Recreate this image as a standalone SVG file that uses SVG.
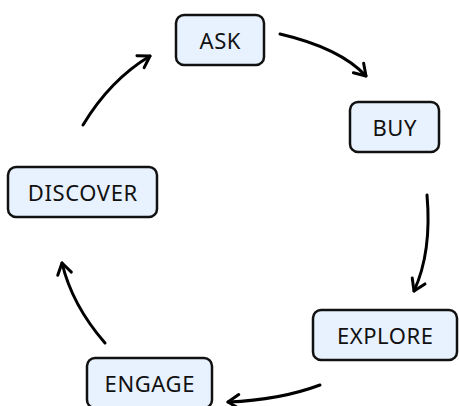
<svg xmlns="http://www.w3.org/2000/svg" width="459" height="406" viewBox="0 0 459 406">
<defs>
<style>
.node rect{fill:#e8f2fe;stroke:#111;stroke-width:2.5}
.node text{font-family:"Noto Sans","Open Sans",sans-serif;font-size:22px;letter-spacing:0.6px;fill:#111;text-anchor:middle}
.edge{fill:none;stroke:#000;stroke-width:3;stroke-linecap:round}
</style>
<marker id="ah" markerUnits="userSpaceOnUse" markerWidth="20" markerHeight="20" refX="0" refY="0" viewBox="-14 -10 20 20" orient="auto" overflow="visible">
<path d="M-11,-7 L0,0 L-11,7" fill="none" stroke="#000" stroke-width="3" stroke-linecap="round" stroke-linejoin="round"/>
</marker>
</defs>
<rect width="459" height="406" fill="#fff"/>
<g id="connectors">
<path class="edge" d="M280,34 Q340,48 366,76" marker-end="url(#ah)"/>
<path class="edge" d="M427,195 Q432,252 414,291" marker-end="url(#ah)"/>
<path class="edge" d="M320,385 Q280,400 228,402" marker-end="url(#ah)"/>
<path class="edge" d="M105,343 Q72,305 62,263" marker-end="url(#ah)"/>
<path class="edge" d="M83,125 Q110,80 150,56" marker-end="url(#ah)"/>
</g>
<g id="ask" class="node"><rect x="176" y="15" width="88" height="50" rx="8"/><text x="220.3" y="48.5">ASK</text></g>
<g id="buy" class="node"><rect x="350" y="102" width="89" height="50" rx="8"/><text x="394.8" y="135.5">BUY</text></g>
<g id="explore" class="node"><rect x="313" y="310" width="144" height="50" rx="8"/><text x="385.3" y="343.5">EXPLORE</text></g>
<g id="engage" class="node"><rect x="87" y="358" width="125" height="50" rx="8"/><text x="149.8" y="391.5">ENGAGE</text></g>
<g id="discover" class="node"><rect x="8" y="167" width="149" height="50" rx="8"/><text x="82.8" y="200.5">DISCOVER</text></g>
</svg>
